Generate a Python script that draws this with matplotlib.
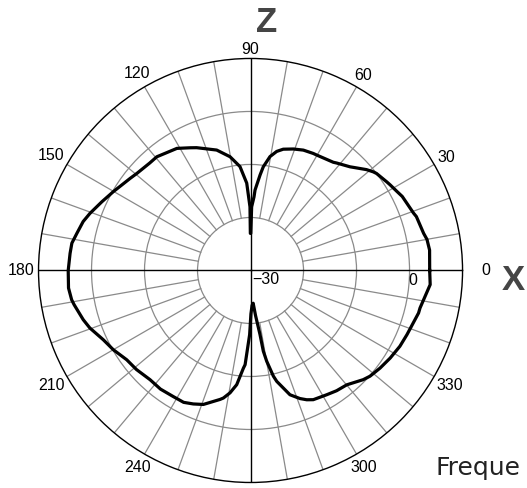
import matplotlib
matplotlib.use("Agg")
import matplotlib.pyplot as plt
import numpy as np

# radiation pattern, angle in degrees, level in dB
ang_deg = [0, 6.5, 10, 12.1, 18, 19.4, 26, 28.3, 31.5, 33.1, 37.6, 38.8, 41, 45, 46.2,
           51.2, 52.6, 60.2, 61.8, 66.3, 70.6, 74.9, 77.6, 80.3, 83, 84.3, 86.8, 87.3,
           89, 89.6, 90.3, 90.5, 92.5, 95.8, 100.2, 105.7, 113.7, 116.2, 121.1, 129.5,
           133.2, 139.5, 142.6, 150.1, 155.2, 160.4, 163.7, 167.9, 171.3, 174.6, 180,
           185.5, 189.3, 191, 196.4, 199.7, 205.2, 210, 215.8, 221, 227.4, 232.8, 238.5,
           243.1, 246.8, 250.6, 256.7, 258, 260.5, 263.1, 265.8, 266.7, 269.2, 270.5,
           272.5, 274.6, 276.3, 278.4, 279, 280.1, 282.2, 283.3, 287.6, 291.1, 293.5,
           295.9, 301.5, 305.6, 310.1, 315.9, 318.5, 323, 327.9, 333.1, 337.7, 345.8,
           347.5, 355.5, 360]
level_db = [3.8, 4.0, 3.8, 3.4, 2.9, 2.6, 1.85, 1.4, 0.9, 0.65, 0.0, -0.3, -1.0, -2.5, -2.9,
            -4.0, -4.3, -4.9, -4.95, -5.2, -5.7, -6.3, -7.0, -8.2, -10.3, -11.9, -14.8, -16.1,
            -18.0, -23.0, -23.0, -18.0, -13.5, -10.3, -8.2, -6.4, -4.7, -4.2, -3.1, -2.2,
            -2.2, -1.8, -1.4, -0.15, 0.9, 2.15, 2.9, 3.5, 4.1, 4.2, 4.4,
            4.5, 4.2, 3.9, 2.9, 2.2, 0.7, -0.1, -1.2, -1.5, -2.0, -1.9, -2.1,
            -2.1, -2.6, -3.2, -5.0, -5.4, -6.6, -8.3, -11.5, -12.2, -17.9, -21.8,
            -23.4, -23.8, -21.5, -17.8, -14.6, -12.6, -9.6, -8.5, -5.4, -4.1, -3.4,
            -2.9, -2.5, -2.1, -1.8, -0.4, 0.1, 0.6, 1.1, 1.6, 1.9, 2.7,
            2.75, 4.0, 3.8]

ring_db = [-20, -10, 0]
angle_labels = ["0", "30", "60", "90", "120", "150", "180", "210", "240", "", "300", "330"]
r_min, r_max = -30, 10
px_per_db = 212 / 40.0

fig = plt.figure(figsize=(5.27, 4.88), dpi=100)
ax = fig.add_axes([0.0731, 0.0113, 0.8046, 0.8689], projection="polar")
ax.set_rlim(r_min, r_max)
ax.set_yticks(ring_db)
ax.set_yticklabels([])
ax.set_xticks([])
ax.yaxis.grid(True, color="#8a8a8a", lw=0.9)
ax.spines["polar"].set_color("black")
ax.spines["polar"].set_linewidth(1.0)

# spokes every 10 degrees, main axes in black
for d in range(0, 360, 10):
    th = np.deg2rad(d)
    if d % 90 == 0:
        ax.plot([th, th], [r_min, r_max], color="black", lw=1.0, zorder=2)
    else:
        ax.plot([th, th], [-20, r_max], color="#8a8a8a", lw=0.9, zorder=1)

ax.plot(np.deg2rad(ang_deg), level_db, color="black", lw=2.3, zorder=3,
        solid_joinstyle="round")

# angle labels outside the circle
for i, lab in enumerate(angle_labels):
    if not lab:
        continue
    th = np.deg2rad(30 * i)
    if lab == "0":
        rpx = 235.5
    else:
        rpx = 216 + 4.4 * len(lab) * abs(np.cos(th)) + 5 * abs(np.sin(th))
    ax.text(th, r_min + rpx / px_per_db, lab, ha="center", va="center",
            fontsize=11.5, family="Liberation Sans", clip_on=False)

ax.annotate("\u221230", xy=(0, r_min), xytext=(2, -9), textcoords="offset pixels",
            ha="left", va="center", fontsize=11.5, family="Liberation Sans")
ax.annotate("0", xy=(0, 0), xytext=(3, -10), textcoords="offset pixels",
            ha="center", va="center", fontsize=11.5, family="Liberation Sans")

fig.text(267 / 527, 1 - 22 / 488, "Z", ha="center", va="center", fontsize=25,
         fontweight="bold", color="#454545", family="Liberation Sans")
fig.text(513 / 527, 1 - 280 / 488, "X", ha="center", va="center", fontsize=25,
         fontweight="bold", color="#454545", family="Liberation Sans")
fig.text(436 / 527, 1 - 475 / 488, "Freque", ha="left", va="baseline",
         fontsize=18, color="#222222", family="DejaVu Sans")

fig.savefig("out.png", dpi=100)
